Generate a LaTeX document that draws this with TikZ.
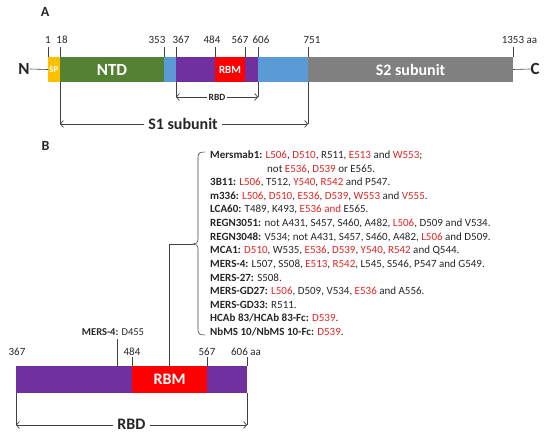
\documentclass[tikz,border=0pt]{standalone}
\usepackage{fontspec}
\setmainfont{Carlito}
\usetikzlibrary{arrows.meta}
\definecolor{spY}{HTML}{FFC000}
\definecolor{ntdG}{HTML}{548235}
\definecolor{linkB}{HTML}{5B9BD5}
\definecolor{rbdP}{HTML}{7030A0}
\definecolor{rbmR}{HTML}{FF0000}
\definecolor{s2G}{HTML}{808080}
\definecolor{resR}{HTML}{E02424}
\definecolor{txtK}{HTML}{262626}
\newcommand{\resd}[1]{\textcolor{resR}{#1}}
\begin{document}
\begin{tikzpicture}[x=1pt,y=-1pt,
  seg/.style={draw=none,inner sep=0pt,outer sep=0pt,text=white,font=\bfseries},
  segA/.style={seg,minimum height=25pt},
  segB/.style={seg,minimum height=27pt},
  tick/.style={line width=0.6pt,draw=black!75},
  num/.style={font=\fontsize{11}{13}\selectfont,text=txtK,inner sep=0pt},
  dim/.style={line width=0.7pt,draw=black!75,{Straight Barb[length=3pt,width=7pt]}-{Straight Barb[length=3pt,width=7pt]}},
  dimtxt/.style={fill=white,inner sep=2pt,text=txtK,font=\bfseries},
  lst/.style={anchor=base west,font=\fontsize{11}{13}\selectfont,inner sep=0pt,text=txtK},
  panel/.style={font=\fontsize{14}{16}\selectfont\bfseries,text=txtK},
  term/.style={font=\fontsize{17}{19}\selectfont\bfseries,text=txtK,inner sep=0pt},
]
\useasboundingbox (0,0) rectangle (550,436);

% ---------------- Panel A ----------------
\node[panel] (labA) at (45,12) {A};
\node[segA,fill=spY,minimum width=12pt,font=\fontsize{9}{10}\selectfont\bfseries] (sp) at (54,69.5) {SP};
\node[segA,fill=ntdG,minimum width=104pt,font=\fontsize{17}{19}\selectfont\bfseries] (ntd) at (112,69.5) {NTD};
\node[segA,fill=linkB,minimum width=12pt] (lkA) at (170,69.5) {};
\node[segA,fill=rbdP,minimum width=82pt] (rbdA) at (217,69.5) {};
\node[segA,fill=rbmR,minimum width=30pt,font=\fontsize{11}{13}\selectfont\bfseries] (rbmA) at (230,69.5) {RBM};
\node[segA,fill=linkB,minimum width=50pt] (lkB) at (283,69.5) {};
\node[segA,fill=s2G,minimum width=205pt,font=\fontsize{16}{18}\selectfont\bfseries] (s2) at (410.5,69.5) {S2 subunit};

\node[term] (nterm) at (24,69) {N};
\node[term] (cterm) at (535,69) {C};
\draw[tick] (nterm.east) -- (sp.west);
\draw[tick] (s2.east) -- (cterm.west);

% ticks A
\foreach \xx/\lx/\tt/\nm in {48/48/1/a1,60/62/18/a18,164/157/353/a353,176/181/367/a367,215/212/484/a484,245/240/567/a567,258/261/606/a606,308/312/751/a751,513/519.5/1353 aa/a1353}{
  \coordinate (t\nm) at (\xx,47);
  \coordinate (b\nm) at (\xx,57);
  \draw[tick] (b\nm) -- (t\nm);
  \node[num] (n\nm) at (\lx,40) {\tt};
}

% RBD dimension (A)
\coordinate (rbdL) at (176,97);
\coordinate (rbdR) at (258,97);
\draw[tick] (176,82) -- (rbdL);
\draw[tick] (258,82) -- (rbdR);
\draw[dim] (rbdL) -- (rbdR);
\node[dimtxt,font=\fontsize{9.5}{11}\selectfont\bfseries] (rbdtxtA) at (217,97) {RBD};

% S1 dimension
\coordinate (s1L) at (60,124);
\coordinate (s1R) at (308,124);
\draw[tick] (60,82) -- (s1L);
\draw[tick] (308,82) -- (s1R);
\draw[dim] (s1L) -- (s1R);
\node[dimtxt,font=\fontsize{16}{18}\selectfont\bfseries,inner sep=4pt] (s1txt) at (183,124) {S1 subunit};

% ---------------- Panel B ----------------
\node[panel] (labB) at (45.5,146) {B};
\node[segB,fill=rbdP,minimum width=231pt] (rbdB) at (131.5,379.5) {};
\node[segB,fill=rbmR,minimum width=75pt,font=\fontsize{16}{18}\selectfont\bfseries] (rbmB) at (169.5,379.5) {RBM};

\node[num] (b367) at (17,352) {367};
\node[num] (b484) at (132,352) {484};
\node[num] (b567) at (207,352) {567};
\node[num] (b606) at (246,352) {606 aa};
\draw[tick] (132,366) -- (132,357);
\draw[tick] (207,366) -- (207,357);
\draw[tick] (247,366) -- (247,357);

\node[num,font=\fontsize{10.5}{12}\selectfont] (mers4) at (113,332) {\textbf{MERS-4:} D455};
\draw[tick] (117,366) -- (117,339);

% RBD dimension (B)
\coordinate (rbdBL) at (16,425);
\coordinate (rbdBR) at (247,425);
\draw[tick] (16,393) -- (rbdBL);
\draw[tick] (247,393) -- (rbdBR);
\draw[dim] (rbdBL) -- (rbdBR);
\node[dimtxt,font=\fontsize{16}{18}\selectfont\bfseries,inner sep=4pt] (rbdtxtB) at (131.5,424) {RBD};

% brace and connector
\coordinate (cusp) at (193,244);
\draw[tick] (205,152) .. controls (200,152) and (198,153) .. (198,157) -- (198,239)
  .. controls (198,243) and (196,244) .. (cusp)
  .. controls (196,244) and (198,245) .. (198,249) -- (198,330)
  .. controls (198,334) and (200,335) .. (205,335);
\draw[tick] (rbmB.north) |- (cusp);

% list
\def\lsp{13.62}
\node[lst] (l1) at (210,158.5) {\textbf{Mersmab1:} \resd{L506}, \resd{D510}, R511, \resd{E513} and \resd{W553};};
\node[lst] (l2) at (267,158.5+1*\lsp) {not \resd{E536}, \resd{D539} or E565.};
\node[lst] (l3) at (210,158.5+2*\lsp) {\textbf{3B11:} \resd{L506}, T512, \resd{Y540}, \resd{R542} and P547.};
\node[lst] (l4) at (210,158.5+3*\lsp) {\textbf{m336:} \resd{L506}, \resd{D510}, \resd{E536}, \resd{D539}, \resd{W553} and \resd{V555}.};
\node[lst] (l5) at (210,158.5+4*\lsp) {\textbf{LCA60:} T489, K493, \resd{E536 and} E565.};
\node[lst] (l6) at (210,158.5+5*\lsp) {\textbf{REGN3051:} not A431, S457, S460, A482, \resd{L506}, D509 and V534.};
\node[lst] (l7) at (210,158.5+6*\lsp) {\textbf{REGN3048:} V534; not A431, S457, S460, A482, \resd{L506} and D509.};
\node[lst] (l8) at (210,158.5+7*\lsp) {\textbf{MCA1:} \resd{D510}, W535, \resd{E536}, \resd{D539}, \resd{Y540}, \resd{R542} and Q544.};
\node[lst] (l9) at (210,158.5+8*\lsp) {\textbf{MERS-4:} L507, S508, \resd{E513}, \resd{R542}, L545, S546, P547 and G549.};
\node[lst] (l10) at (210,158.5+9*\lsp) {\textbf{MERS-27:} S508.};
\node[lst] (l11) at (210,158.5+10*\lsp) {\textbf{MERS-GD27:} \resd{L506}, D509, V534, \resd{E536} and A556.};
\node[lst] (l12) at (210,158.5+11*\lsp) {\textbf{MERS-GD33:} R511.};
\node[lst] (l13) at (210,158.5+12*\lsp) {\textbf{HCAb 83/HCAb 83-Fc:} \resd{D539}.};
\node[lst] (l14) at (210,158.5+13*\lsp) {\textbf{NbMS 10/NbMS 10-Fc:} \resd{D539}.};
\end{tikzpicture}
\end{document}
